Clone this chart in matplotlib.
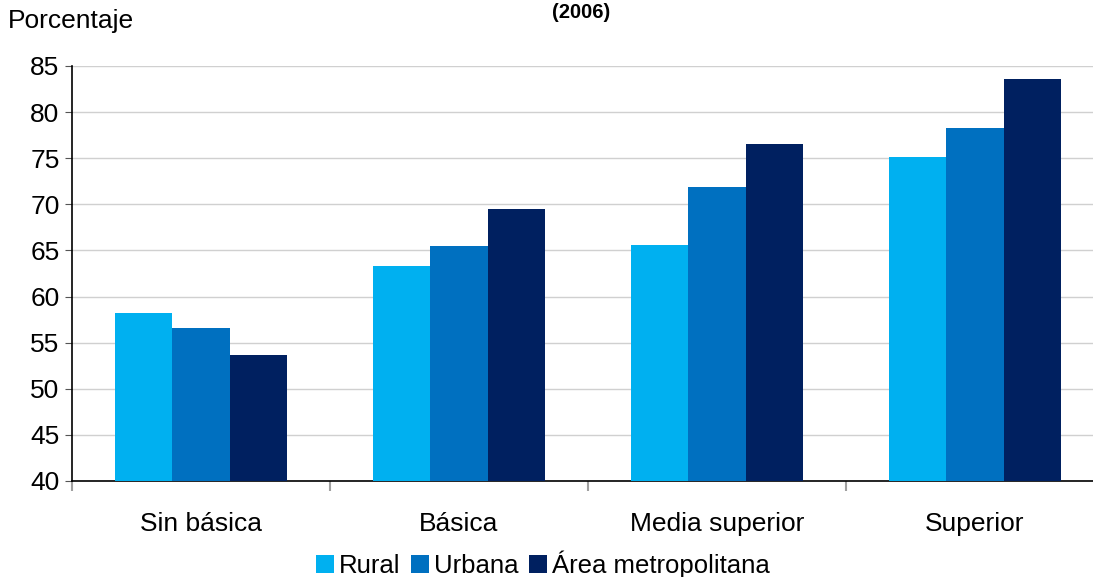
import numpy as np
import matplotlib.pyplot as plt

plt.rcParams['font.family'] = ['Liberation Sans', 'DejaVu Sans']

categorias = ['Sin básica', 'Básica', 'Media superior', 'Superior']
series = ['Rural', 'Urbana', 'Área metropolitana']
rural = [58.2, 63.3, 65.6, 75.1]
urbana = [56.6, 65.5, 71.9, 78.3]
area_metro = [53.7, 69.5, 76.5, 83.6]
colores = ['#00B0F0', '#0070C0', '#002060']

fig = plt.figure(figsize=(10.93, 5.77), dpi=100)
# axes extends past right edge, like the original (cut off)
ax = fig.add_axes([72 / 1093, 1 - 481 / 577, (1104 - 72) / 1093, (481 - 66) / 577])

x = np.arange(len(categorias))
w = 0.223
for i, (vals, nombre) in enumerate(zip([rural, urbana, area_metro], series)):
    ax.bar(x + (i - 1) * w, [v - 40 for v in vals], w, bottom=40,
           color=colores[i], label=nombre, zorder=3)

ax.set_xlim(-0.5, 3.5)
ax.set_ylim(40, 85)
ax.set_yticks(range(40, 86, 5))
ax.yaxis.grid(True, color='#D0D0D0', linewidth=1, zorder=0)
ax.tick_params(axis='y', labelsize=19, direction='out', length=5, color='#555555', pad=4)

ax.set_xticks(x)
ax.set_xticklabels(categorias, fontsize=19)
ax.tick_params(axis='x', length=0, pad=22)
ax.set_xticks(np.arange(-0.5, 4.0, 1.0), minor=True)
ax.tick_params(axis='x', which='minor', length=7, color='#A0A0A0', width=1.5)

for s in ['top', 'right']:
    ax.spines[s].set_visible(False)
ax.spines['left'].set_linewidth(1.2)
ax.spines['bottom'].set_linewidth(1.2)

fig.text(8 / 1093, 1 - 21 / 577, 'Porcentaje', fontsize=19, va='center', ha='left')
fig.text(581 / 1093, 1 - 12 / 577, '(2006)', fontsize=14.5, fontweight='bold', va='center', ha='center')

fig.legend(loc='center', bbox_to_anchor=(543 / 1093, 1 - 564 / 577), ncol=3, frameon=False,
           fontsize=18.5, handlelength=0.7, handleheight=0.7, handletextpad=0.2,
           columnspacing=0.4, borderpad=0)

fig.savefig('out.png', dpi=100)
